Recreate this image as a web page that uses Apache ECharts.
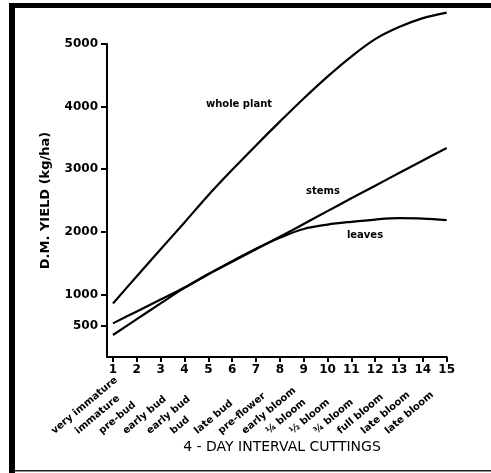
<!DOCTYPE html>
<html>
<head>
<meta charset="utf-8">
<script src="https://cdn.jsdelivr.net/npm/echarts@6/dist/echarts.min.js"></script>
<style>
html,body{margin:0;padding:0;background:#fff;}
#chart{width:491px;height:473px;}
</style>
</head>
<body>
<div id="chart"></div>
<script>
// cutting number (x) values
var cuttings = [1,2,3,4,5,6,7,8,9,10,11,12,13,14,15];
// growth stage names for each cutting
var stages = ['very immature','immature','pre-bud','early bud','early bud','bud','late bud','pre-flower','early bloom','\u00bc bloom','\u00bd bloom','\u00be bloom','full bloom','late bloom','late bloom'];
// D.M. yield (kg/ha)
var wholePlant = [856,1290,1720,2150,2585,2990,3380,3760,4130,4480,4800,5078,5270,5413,5502];
var stems      = [351,604,857,1105,1320,1520,1720,1920,2125,2330,2535,2735,2940,3140,3340];
var leaves     = [537,728,919,1110,1325,1530,1730,1905,2045,2115,2160,2196,2217,2212,2185];
// y axis tick labels
var yTicks = [500,1000,2000,3000,4000,5000];

function pairs(xs, ys){ return xs.map(function(x,i){ return [x, ys[i]]; }); }

var chart = echarts.init(document.getElementById('chart'), null, {renderer:'canvas'});
var FONT = 'DejaVu Sans';
var lineStyle = {color:'#000', width:2.2};

chart.setOption({
  backgroundColor:'#fff',
  animation:false,
  grid:[
    {left:107, right:44.3, top:44, bottom:116, outerBoundsMode:'none'},
    {left:50, right:101.3, bottom:37, height:1, outerBoundsMode:'none'}
  ],
  xAxis:[
    {type:'value', gridIndex:0, min:0.75, max:15,
     axisLine:{show:true, lineStyle:{color:'#000', width:2}},
     axisTick:{show:true, length:5, customValues:cuttings, lineStyle:{color:'#000', width:2}},
     splitLine:{show:false},
     axisLabel:{customValues:cuttings, margin:7, color:'#000', fontFamily:FONT, fontWeight:'bold', fontSize:12}
    },
    {type:'value', gridIndex:1, min:0.75, max:15,
     axisLine:{show:false}, axisTick:{show:false}, splitLine:{show:false},
     axisLabel:{customValues:cuttings, margin:0, rotate:40, align:'left', verticalAlign:'bottom',
       color:'#000', fontFamily:FONT, fontWeight:'bold', fontSize:10,
       formatter:function(v){ return stages[Math.round(v)-1]; }}
    }
  ],
  yAxis:[
    {type:'value', gridIndex:0, min:0, max:5000,
     name:'D.M. YIELD (kg/ha)', nameLocation:'middle', nameGap:55, nameRotate:90,
     nameTextStyle:{color:'#000', fontFamily:FONT, fontWeight:'bold', fontSize:13},
     axisLine:{show:true, lineStyle:{color:'#000', width:2}},
     axisTick:{show:true, length:6, customValues:yTicks, lineStyle:{color:'#000', width:2}},
     splitLine:{show:false},
     axisLabel:{customValues:yTicks, margin:9, color:'#000', fontFamily:FONT, fontWeight:'bold', fontSize:12,
       formatter:function(v){ return String(v); }}
    },
    {type:'value', gridIndex:1, show:false, min:0, max:1}
  ],
  series:[
    {name:'whole plant', type:'line', xAxisIndex:0, yAxisIndex:0, data:pairs(cuttings, wholePlant), smooth:0.35, symbol:'none', clip:false, lineStyle:lineStyle},
    {name:'stems', type:'line', xAxisIndex:0, yAxisIndex:0, data:pairs(cuttings, stems), smooth:0.35, symbol:'none', clip:false, lineStyle:lineStyle},
    {name:'leaves', type:'line', xAxisIndex:0, yAxisIndex:0, data:pairs(cuttings, leaves), smooth:0.35, symbol:'none', clip:false, lineStyle:lineStyle}
  ],
  graphic:[
    {type:'rect', shape:{x:9, y:3, width:6, height:470}, style:{fill:'#000'}},
    {type:'rect', shape:{x:9, y:3, width:482, height:5}, style:{fill:'#000'}},
    {type:'rect', shape:{x:15, y:470, width:476, height:1.5}, style:{fill:'#222'}},
    {type:'text', x:282, y:447, style:{text:'4 - DAY INTERVAL CUTTINGS', fill:'#000', font:'14px "DejaVu Sans"', textAlign:'center', textVerticalAlign:'middle'}},
    {type:'text', x:239, y:104, style:{text:'whole plant', fill:'#000', font:'bold 10px "DejaVu Sans"', textAlign:'center', textVerticalAlign:'middle'}},
    {type:'text', x:323, y:191, style:{text:'stems', fill:'#000', font:'bold 10px "DejaVu Sans"', textAlign:'center', textVerticalAlign:'middle'}},
    {type:'text', x:365, y:235, style:{text:'leaves', fill:'#000', font:'bold 10px "DejaVu Sans"', textAlign:'center', textVerticalAlign:'middle'}}
  ]
});
</script>
</body>
</html>
